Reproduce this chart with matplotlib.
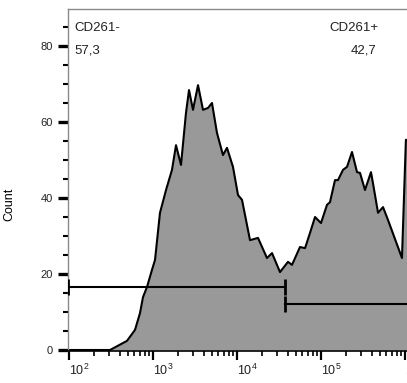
import matplotlib
matplotlib.use("Agg")
import matplotlib.pyplot as plt
from matplotlib.ticker import LogLocator, FixedLocator, MultipleLocator, NullFormatter

plt.rcParams['font.family'] = ['Liberation Sans', 'DejaVu Sans']
plt.rcParams['mathtext.fontset'] = 'custom'
plt.rcParams['mathtext.rm'] = 'Liberation Sans'
plt.rcParams['mathtext.it'] = 'Liberation Sans'

# Histogram (fluorescence intensity vs count)
fluor = [95, 308, 490, 611, 700, 760, 849, 973, 1057, 1211, 1429, 1683, 1879, 2154,
         2470, 2683, 2993, 3436, 3938, 4519, 5037, 5781, 6809, 7600, 8955, 10276,
         11473, 14287, 17783, 22751, 26120, 32510, 40458, 45168, 56234, 64574,
         73960, 84918, 100000, 117877, 127896, 146780, 159281, 182810, 204174,
         233884, 268536, 291377, 334048, 393550, 415597, 477529, 547410, 628058,
         920449, 1025000, 1300000]
counts = [0, 0, 2.4, 5.3, 9.7, 13.9, 16.6, 21.1, 23.7, 36.1, 42.1, 47.4, 53.9, 48.7,
          62.4, 68.4, 63.2, 69.7, 63.2, 63.7, 65.0, 57.1, 51.3, 53.2, 48.2, 40.8,
          39.5, 28.9, 29.5, 24.2, 25.5, 20.5, 23.2, 22.4, 27.1, 26.8,
          30.8, 35.0, 33.4, 38.2, 38.9, 44.7, 44.7, 47.4, 48.2,
          52.1, 46.8, 46.6, 42.1, 46.8, 43.9, 36.1, 37.6, 34.2,
          24.2, 55.3, 55.3]

# Gates
gate_names = ["CD261-", "CD261+"]
gate_pcts = ["57,3", "42,7"]
gate_neg = [97, 37300]
gate_pos = [37300, 1.3e6]
gate_neg_level = 16.6
gate_pos_level = 12.1

xtick_vals = [1e2, 1e3, 1e4, 1e5, 1e6]
xtick_labels = [r'$\mathregular{10^{2}}$', r'$\mathregular{10^{3}}$', r'$\mathregular{10^{4}}$',
                r'$\mathregular{10^{5}}$', r'$\mathregular{10^{6}}$']
ytick_vals = [0, 20, 40, 60, 80]

W, H = 407, 383
fig = plt.figure(figsize=(W / 100, H / 100), dpi=100)
ax = fig.add_axes([68 / W, (H - 351) / H, 339 / W, 342 / H])

ax.fill_between(fluor, counts, 0, color='#999999', linewidth=0, zorder=1)
ax.plot(fluor, counts, color='black', linewidth=1.5, zorder=2, solid_joinstyle='round')

# gate lines
ax.plot(gate_neg, [gate_neg_level] * 2, color='black', linewidth=1.5, zorder=3)
ax.vlines(gate_neg, gate_neg_level - 2, gate_neg_level + 2, color='black', linewidth=2, zorder=3)
ax.plot(gate_pos, [gate_pos_level] * 2, color='black', linewidth=1.5, zorder=3)
ax.vlines(gate_pos[0], gate_pos_level - 2, gate_pos_level + 2, color='black', linewidth=2, zorder=3)

ax.set_xscale('log')
ax.set_xlim(10 ** (2 - 1 / 84), 10 ** (6 + 2 / 84))
ax.set_ylim(-1 / 3.8, (350 - 9) / 3.8)

ax.xaxis.set_major_locator(FixedLocator(xtick_vals))
ax.set_xticklabels(xtick_labels, fontsize=9, ha='left')
ax.xaxis.set_minor_locator(LogLocator(base=10, subs=range(2, 10)))
ax.xaxis.set_minor_formatter(NullFormatter())
ax.set_yticks(ytick_vals)
ax.set_yticklabels([str(v) for v in ytick_vals], fontsize=8)
ax.yaxis.set_minor_locator(MultipleLocator(5))

ax.tick_params(axis='x', which='major', direction='out', length=6.5, width=1.6, pad=2, colors='black')
ax.tick_params(axis='x', which='minor', direction='out', length=3.5, width=1.2, colors='black')
ax.tick_params(axis='y', which='major', direction='out', length=7, width=2.4, pad=4, colors='black')
ax.tick_params(axis='y', which='minor', direction='out', length=3.5, width=1.5, colors='black')
ax.tick_params(labelcolor='#222222')

for s in ['left', 'top']:
    ax.spines[s].set_color('#8a8a8a')
    ax.spines[s].set_linewidth(1.0)
ax.spines['right'].set_visible(False)
ax.spines['bottom'].set_color('black')
ax.spines['bottom'].set_linewidth(1.2)

ax.set_ylabel('Count', fontsize=9)
ax.yaxis.set_label_coords(-0.156, 0.43)

ax.text(0.018, 0.962, gate_names[0], transform=ax.transAxes, fontsize=9.5, ha='left', va='top', color='#222222')
ax.text(0.018, 0.897, gate_pcts[0], transform=ax.transAxes, fontsize=9.5, ha='left', va='top', color='#222222')
ax.text(0.917, 0.962, gate_names[1], transform=ax.transAxes, fontsize=9.5, ha='right', va='top', color='#222222')
ax.text(0.909, 0.897, gate_pcts[1], transform=ax.transAxes, fontsize=9.5, ha='right', va='top', color='#222222')

fig.savefig('out.png', dpi=100)
